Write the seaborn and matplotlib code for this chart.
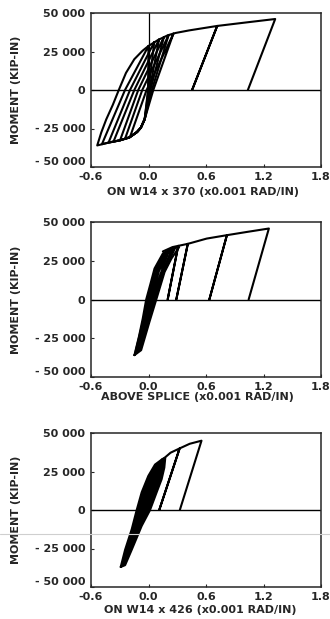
import numpy as np
import pandas as pd
import matplotlib
matplotlib.use("Agg")
import matplotlib.pyplot as plt
import seaborn as sns
from matplotlib.lines import Line2D

sns.set_style("ticks")
plt.rcParams["font.family"] = ["DejaVu Sans"]

# ---------------- data (rotation x0.001 rad/in, moment kip-in) ----------------
x_ticks = [-0.6, 0.0, 0.6, 1.2, 1.8]
x_tick_labels = ["-0.6", "0.0", "0.6", "1.2", "1.8"]
y_ticks = [50000, 25000, 0, -25000, -50000]
y_tick_labels = ["50 000", "25 000", "0", "- 25 000", "- 50 000"]
y_title = "MOMENT (KIP-IN)"
x_titles = ["ON W14 x 370 (x0.001 RAD/IN)",
            "ABOVE SPLICE (x0.001 RAD/IN)",
            "ON W14 x 426 (x0.001 RAD/IN)"]

# Panel 1: ON W14x370
p1_rot = [
    [0.005, -0.01, -0.04, -0.08, -0.12, -0.2, -0.3, -0.42, -0.535, -0.493, -0.441,
     -0.372, -0.31, -0.235, -0.148, -0.062, 0.0, 0.1, 0.2, 0.28, 0.424, 0.717,
     0.455, 0.717, 1.01, 1.322, 1.037],
    [0.0, -0.005, -0.04, -0.08, -0.12, -0.2, -0.3, -0.42, -0.486, -0.245, 0.0],
    [0.06, 0.0, -0.04, -0.08, -0.12, -0.2, -0.3, -0.417, -0.193, 0.06],
    [0.11, 0.01, -0.04, -0.08, -0.12, -0.2, -0.3, -0.365, -0.148, 0.11],
    [0.16, 0.02, -0.04, -0.08, -0.12, -0.2, -0.297, -0.107, 0.16],
    [0.21, 0.035, -0.04, -0.08, -0.12, -0.2, -0.245, -0.065, 0.21],
    [0.26, 0.05, -0.04, -0.08, -0.12, -0.193, -0.02, 0.26],
]
p1_mom = [
    [0, -10000, -19000, -24500, -27300, -30800, -32700, -34200, -36000, -27600, -19100,
     -9600, 0, 11100, 20000, 25500, 28600, 32500, 35500, 37000, 38700, 41600,
     0, 41600, 43800, 46100, 0],
    [28600, 0, -19000, -24500, -27300, -30800, -32700, -34200, -35200, 0, 28600],
    [31100, 0, -19000, -24500, -27300, -30800, -32700, -34150, 0, 31100],
    [32800, 0, -19000, -24500, -27300, -30800, -32700, -33500, 0, 32800],
    [34300, 0, -19000, -24500, -27300, -30800, -32700, 0, 34300],
    [35700, 0, -19000, -24500, -27300, -30800, -31700, 0, 35700],
    [36600, 0, -19000, -24500, -27300, -30500, 0, 36600],
]

# Panel 2: above splice
p2_rot = [
    [0.15, 0.25, 0.31, 0.20, 0.31, 0.41, 0.29, 0.41, 0.607, 0.818, 0.635, 0.818,
     1.028, 1.256, 1.045],
    [-0.147, -0.10, -0.06, -0.024, 0.02, 0.063, 0.15, 0.25, 0.32, 0.239, 0.168,
     0.081, 0.01, -0.077, -0.147],
    [-0.14, -0.05, -0.012, 0.075, 0.16, 0.28, 0.22, 0.155, 0.07, 0.0, -0.085, -0.14],
    [-0.13, -0.04, 0.0, 0.09, 0.17, 0.26, 0.20, 0.14, 0.06, -0.01, -0.09, -0.13],
    [-0.12, -0.03, 0.012, 0.10, 0.18, 0.24, 0.19, 0.13, 0.05, -0.02, -0.095, -0.12],
    [-0.105, -0.02, 0.025, 0.11, 0.20, 0.12, 0.04, -0.03, -0.105],
]
p2_mom = [
    [31000, 33800, 34600, 0, 34600, 35900, 0, 35900, 39300, 41500, 0, 41500,
     43600, 45800, 0],
    [-35900, -24000, -12300, 0, 10000, 20000, 29700, 33200, 33800, 26400, 17800,
     0, -14400, -32700, -35900],
    [-35000, -12000, 0, 19500, 29500, 33500, 25500, 17000, 0, -14000, -32000, -35000],
    [-33500, -11500, 0, 19500, 29000, 33000, 25000, 16500, 0, -13500, -31000, -33500],
    [-32000, -11000, 0, 19000, 28500, 32000, 24500, 16000, 0, -13000, -29500, -32000],
    [-29000, -10000, 0, 18500, 29000, 15500, 0, -12500, -29000],
]

# Panel 3: ON W14x426
p3_rot = [
    [0.137, 0.17, 0.23, 0.325, 0.112, 0.325, 0.43, 0.553, 0.327],
    [-0.29, -0.244, -0.175, -0.123, -0.071, -0.002, 0.068, 0.137, 0.175, 0.165,
     0.137, 0.085, 0.016, -0.071, -0.175, -0.244, -0.29],
]
p3_mom = [
    [32700, 34000, 37200, 40000, 0, 40000, 43000, 45000, 0],
    [-37000, -25800, -12500, 0, 11500, 22100, 29500, 32700, 33900, 27500,
     20000, 11500, 0, -10300, -25800, -35800, -37000],
]

panels = [(p1_rot, p1_mom), (p2_rot, p2_mom), (p3_rot, p3_mom)]

# ---------------- layout ----------------
fig = plt.figure(figsize=(3.30, 6.19), dpi=100)
W, H = 330.0, 619.0
boxes = [(91, 13, 321, 167), (91, 222, 321, 377), (91, 433, 321, 587)]
xlabel_pos = [(0.487, -0.128), (0.461, -0.097), (0.477, -0.12)]

for i, ((rots, moms), box) in enumerate(zip(panels, boxes)):
    l, t, r, b = box
    ax = fig.add_axes([l / W, 1 - b / H, (r - l) / W, (b - t) / H])
    rows = []
    for k, (xs, ys) in enumerate(zip(rots, moms)):
        for j, (xv, yv) in enumerate(zip(xs, ys)):
            rows.append({"rot": xv, "moment": yv, "branch": k, "order": j})
    df = pd.DataFrame(rows)
    if i == 2:
        bundle = df[df.branch == 1]
        ax.fill(bundle["rot"], bundle["moment"], color="black", lw=0)
    sns.lineplot(data=df, x="rot", y="moment", units="branch", estimator=None,
                 sort=False, color="black", lw=1.5, ax=ax, legend=False)
    ax.axhline(0, color="black", lw=1.0, zorder=1)
    if i == 0:
        ax.axvline(0, ymin=0.5, ymax=1.0, color="black", lw=0.9, zorder=1)
    ax.set_xlim(-0.6, 1.8)
    ax.set_ylim(-50000, 50000)
    ax.set_xticks(x_ticks)
    ax.set_xticklabels(x_tick_labels)
    ax.set_yticks(y_ticks)
    ax.set_yticklabels(y_tick_labels)
    ax.tick_params(direction="in", length=2.5, width=0.8, labelsize=8)
    ax.tick_params(axis="x", pad=3.5)
    ax.tick_params(axis="y", pad=4)
    for lab in ax.get_xticklabels() + ax.get_yticklabels():
        lab.set_fontweight("bold")
    ax.get_yticklabels()[-1].set_verticalalignment("bottom")
    for sp in ax.spines.values():
        sp.set_linewidth(1.1)
        sp.set_visible(True)
    ax.set_ylabel(y_title, fontsize=8, fontweight="bold")
    ax.yaxis.set_label_coords(-0.304, 0.5)
    ax.set_xlabel(x_titles[i], fontsize=8, fontweight="bold")
    ax.xaxis.set_label_coords(*xlabel_pos[i])

# faint scan streak across the lower panel
fig.add_artist(Line2D([0, 1], [1 - 533.5 / H, 1 - 533.5 / H], color="#cfcfcf", lw=0.8))

fig.savefig("out.png", dpi=100, facecolor="white")
